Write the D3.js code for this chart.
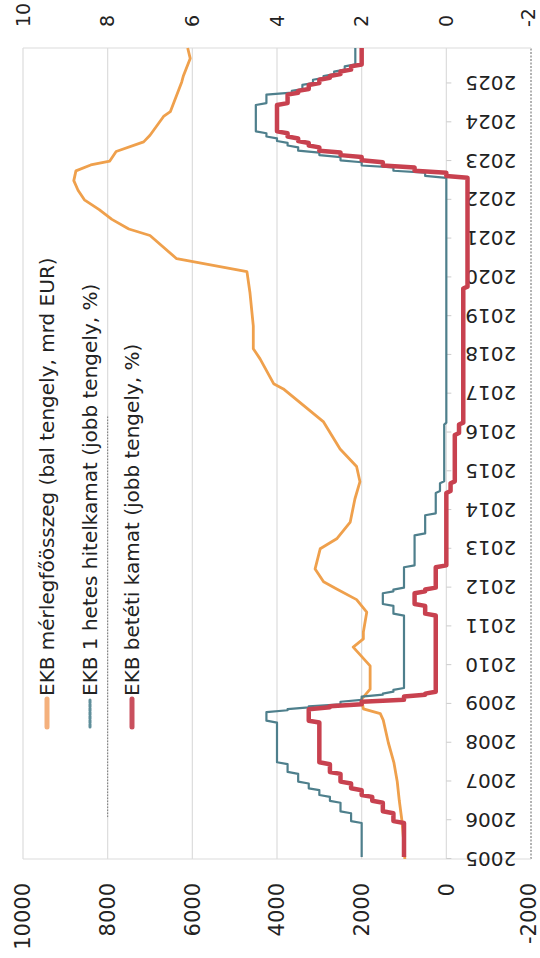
<!DOCTYPE html>
<html><head><meta charset="utf-8">
<script src="https://cdn.jsdelivr.net/npm/d3@7"></script>
<style>html,body{margin:0;padding:0;background:#fff;} svg{display:block;}</style>
</head><body>
<script>
// ---- data ----
const balanceDates = ["2005-01-01","2005-07-01","2006-01-01","2006-07-01","2007-01-01","2007-07-01","2008-01-01","2008-08-01","2008-10-01","2008-11-15","2009-02-15","2009-05-20","2009-12-25","2010-06-20","2010-09-05","2010-11-10","2011-05-15","2011-09-10","2011-12-20","2012-02-25","2012-06-25","2013-01-01","2013-04-05","2013-09-10","2014-04-15","2014-09-25","2015-02-15","2015-07-30","2016-04-10","2017-02-15","2017-04-05","2017-11-25","2018-03-01","2018-10-01","2019-08-15","2020-02-25","2020-06-25","2021-01-30","2021-04-01","2021-07-01","2021-10-01","2022-01-01","2022-04-01","2022-07-01","2022-10-01","2022-11-25","2023-01-01","2023-04-01","2023-07-01","2023-09-01","2024-02-25","2024-04-10","2025-01-15","2025-03-15","2025-08-25","2025-12-01"];
const balanceValues = [980,1010,1050,1110,1160,1240,1370,1490,1560,1960,2000,1800,1800,2200,1960,1960,1880,2120,2590,2900,3100,2980,2590,2270,2160,2040,2120,2510,2900,3850,4080,4400,4560,4560,4640,4710,6370,7000,7500,7900,8200,8550,8700,8800,8750,8400,7950,7800,7150,7000,6680,6520,6250,6210,6050,6110];

const mroDates = ["2005-01-01","2005-12-06","2006-03-08","2006-06-15","2006-08-09","2006-10-11","2006-12-13","2007-03-14","2007-06-13","2008-07-09","2008-10-15","2008-11-12","2008-12-10","2009-01-21","2009-03-11","2009-04-08","2009-05-13","2011-04-13","2011-07-13","2011-11-09","2011-12-14","2012-07-11","2013-05-08","2013-11-13","2014-06-11","2014-09-10","2016-03-16","2022-07-27","2022-09-14","2022-11-02","2022-12-21","2023-02-08","2023-03-22","2023-05-10","2023-06-21","2023-08-02","2023-09-20","2024-06-12","2024-09-18","2024-10-23","2024-12-18","2025-02-05","2025-03-12","2025-04-23","2025-06-11","2025-12-01"];
const mroValues = [2.00,2.25,2.50,2.75,3.00,3.25,3.50,3.75,4.00,4.25,3.75,3.25,2.50,2.00,1.50,1.25,1.00,1.25,1.50,1.25,1.00,0.75,0.50,0.25,0.15,0.05,0.00,0.50,1.25,2.00,2.50,3.00,3.50,3.75,4.00,4.25,4.50,4.25,3.65,3.40,3.15,2.90,2.65,2.40,2.15,2.15];

const depositDates = ["2005-01-01","2005-12-06","2006-03-08","2006-06-15","2006-08-09","2006-10-11","2006-12-13","2007-03-14","2007-06-13","2008-07-09","2008-11-12","2008-12-10","2009-01-21","2009-03-11","2009-04-08","2011-04-13","2011-07-13","2011-11-09","2011-12-14","2012-07-11","2014-06-11","2014-09-10","2015-12-09","2016-03-16","2019-09-18","2022-07-27","2022-09-14","2022-11-02","2022-12-21","2023-02-08","2023-03-22","2023-05-10","2023-06-21","2023-08-02","2023-09-20","2024-06-12","2024-09-18","2024-10-23","2024-12-18","2025-02-05","2025-03-12","2025-04-23","2025-06-11","2025-12-01"];
const depositValues = [1.00,1.25,1.50,1.75,2.00,2.25,2.50,2.75,3.00,3.25,2.75,2.00,1.00,0.50,0.25,0.50,0.75,0.50,0.25,0.00,-0.10,-0.20,-0.30,-0.40,-0.50,0.00,0.75,1.50,2.00,2.50,3.00,3.25,3.50,3.75,4.00,3.75,3.50,3.25,3.00,2.75,2.50,2.25,2.00,2.00];

const leftTicks = [-2000,0,2000,4000,6000,8000,10000];
const rightTicks = [-2,0,2,4,6,8,10];
const yearTicks = ["2005","2006","2007","2008","2009","2010","2011","2012","2013","2014","2015","2016","2017","2018","2019","2020","2021","2022","2023","2024","2025"];
const legendLabels = ["EKB mérlegfőösszeg (bal tengely, mrd EUR)","EKB 1 hetes hitelkamat (jobb tengely, %)","EKB betéti kamat (jobb tengely, %)"];

// ---- drawing (chart is built landscape, then turned 90° counter-clockwise) ----
const W = 958, H = 540;
const font = "'DejaVu Sans', sans-serif";
const svg = d3.select("body").append("svg").attr("width", 540).attr("height", 958);
const g = svg.append("g").attr("transform", `translate(0,${W}) rotate(-90)`);
const parse = d3.timeParse("%Y-%m-%d");

const x = d3.scaleTime().domain([parse("2005-01-01"), parse("2025-12-01")]).range([99, 910]);
const yL = d3.scaleLinear().domain([-2000, 10000]).range([531, 23]);
const yR = d3.scaleLinear().domain([-2, 10]).range([531, 23]);

// grid
g.append("g").selectAll("line").data(leftTicks).join("line")
  .attr("x1", x.range()[0]).attr("x2", x.range()[1])
  .attr("y1", d => yL(d)).attr("y2", d => yL(d))
  .attr("stroke", d => d === -2000 ? "#666" : "#dcdcdc")
  .attr("stroke-width", d => d === -2000 ? 1 : 1.2)
  .attr("stroke-dasharray", d => d === -2000 ? "2,1.5" : null);
// dotted segment across the legend area
g.append("line").attr("x1", 141).attr("x2", 543).attr("y1", yL(8000)).attr("y2", yL(8000))
  .attr("stroke", "#777").attr("stroke-width", 1).attr("stroke-dasharray", "1.5,1.5");
// plot side borders
[x.range()[0], x.range()[1]].forEach(px => {
  g.append("line").attr("x1", px).attr("x2", px).attr("y1", yL(10000)).attr("y2", yL(-2000))
    .attr("stroke", "#dcdcdc").attr("stroke-width", 1.2);
});

// x axis at value 0
const xAxis = d3.axisBottom(x)
  .tickValues(yearTicks.map(y => parse(y + "-01-01")))
  .tickSize(5).tickFormat(d3.timeFormat("%Y"));
const xa = g.append("g").attr("transform", `translate(0,${yL(0)})`).call(xAxis);
xa.select(".domain").remove();
xa.selectAll(".tick line").attr("stroke", "#ccc");
xa.selectAll(".tick text")
  .attr("transform", "rotate(-90)")
  .attr("x", -19).attr("y", 0).attr("dy", "0.35em")
  .attr("text-anchor", "end")
  .attr("font-family", font).attr("font-size", 20).attr("fill", "#222");

// left axis labels
const la = d3.axisLeft(yL).tickValues(leftTicks).tickSize(0).tickPadding(24).tickFormat(d => String(d));
const lag = g.append("g").attr("transform", `translate(${x.range()[0]},0)`).call(la);
lag.select(".domain").remove();
lag.selectAll("text").attr("font-family", font).attr("font-size", 21).attr("fill", "#222")
  .attr("dy", d => d === -2000 ? "0.2em" : "0.32em");

// right axis labels
const ra = d3.axisRight(yR).tickValues(rightTicks).tickSize(0).tickPadding(21).tickFormat(d => String(d));
const rag = g.append("g").attr("transform", `translate(${x.range()[1]},0)`).call(ra);
rag.select(".domain").remove();
rag.selectAll("text").attr("font-family", font).attr("font-size", 19).attr("fill", "#222")
  .attr("dy", d => d === -2 ? "0.2em" : "0.32em");

// series points; each rate change is drawn as a short slanted step (as in the reference)
const balance = balanceDates.map((d, i) => ({ d: parse(d), v: balanceValues[i] }));
function stepPoints(dates, values) {
  const pts = [];
  const end = parse(dates[dates.length - 1]);
  dates.forEach((s, i) => {
    const d = parse(s);
    if (i > 0) pts.push({ d: d, v: values[i - 1] });
    const d2 = i === dates.length - 1 ? d : new Date(Math.min(+d3.timeDay.offset(d, 18), +end));
    pts.push({ d: d2, v: values[i] });
  });
  return pts;
}
const mro = stepPoints(mroDates, mroValues);
const dep = stepPoints(depositDates, depositValues);

g.append("path").datum(balance)
  .attr("d", d3.line().x(p => x(p.d)).y(p => yL(p.v)).curve(d3.curveLinear))
  .attr("fill", "none").attr("stroke", "#EFA04C").attr("stroke-width", 2.8).attr("stroke-linejoin", "round");
g.append("path").datum(mro)
  .attr("d", d3.line().x(p => x(p.d)).y(p => yR(p.v)))
  .attr("fill", "none").attr("stroke", "#4E7F8C").attr("stroke-width", 2.2).attr("stroke-linejoin", "round");
g.append("path").datum(dep)
  .attr("d", d3.line().x(p => x(p.d)).y(p => yR(p.v)))
  .attr("fill", "none").attr("stroke", "#C8414F").attr("stroke-width", 4.5).attr("stroke-linejoin", "round");

// legend
const legendColors = ["#F4B07C", "#5E8E9A", "#C9505E"];
const legendWidths = [5, 3, 5];
const legendY = [47, 90, 132];
const lg = g.append("g");
legendLabels.forEach((t, i) => {
  lg.append("line").attr("x1", 231).attr("x2", 259).attr("y1", legendY[i]).attr("y2", legendY[i])
    .attr("stroke", legendColors[i]).attr("stroke-width", legendWidths[i]).attr("stroke-linecap", "round")
    .attr("stroke-dasharray", i === 1 ? "3,1" : null);
  lg.append("text").attr("x", 262).attr("y", legendY[i]).attr("dy", "0.35em")
    .attr("font-family", font).attr("font-size", 20).attr("fill", "#222").text(t);
});
</script>
</body></html>
